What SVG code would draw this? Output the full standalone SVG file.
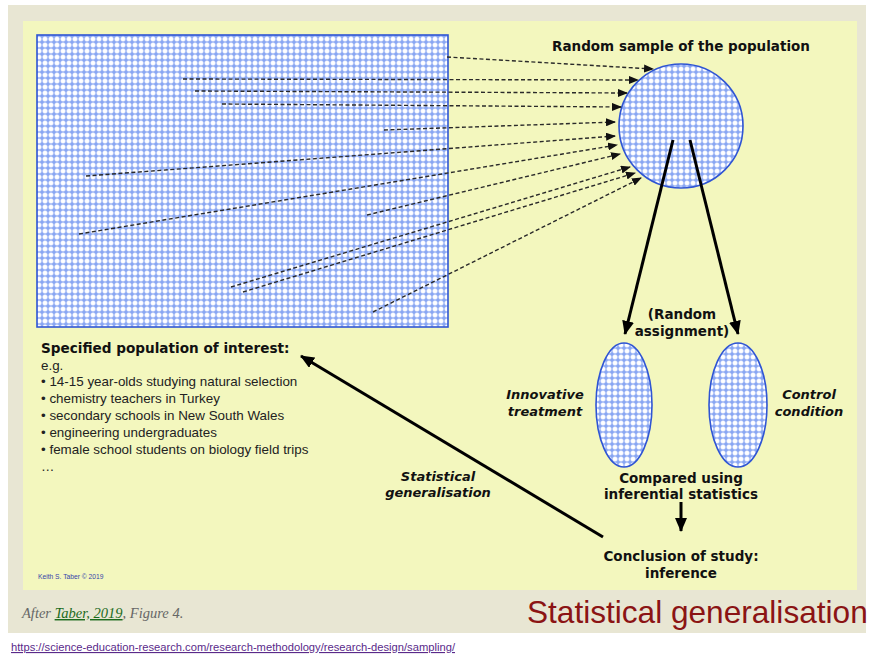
<svg xmlns="http://www.w3.org/2000/svg" width="869" height="657" viewBox="0 0 869 657">
  <defs>
    <style>
      .bold { font-family: "DejaVu Sans", "Liberation Sans", sans-serif; font-weight: bold; fill: #111; }
      .boldit { font-family: "DejaVu Sans", "Liberation Sans", sans-serif; font-weight: bold; font-style: italic; fill: #111; }
      .body { font-family: "Liberation Sans", Arial, sans-serif; font-size: 13.4px; fill: #222; }
      .dash { fill: none; stroke: #2a2a2a; stroke-width: 1.4; stroke-dasharray: 4 2.5; marker-end: url(#headSmall); }
      .solid { fill: none; stroke: #000; stroke-width: 3; marker-end: url(#headBig); }
      .shape { fill: url(#mesh); stroke: #2f55d4; stroke-width: 1.6; }
    </style>
    <!-- blue net of small rings used to fill the population shapes -->
    <pattern id="mesh" width="6" height="6" patternUnits="userSpaceOnUse">
      <rect width="6" height="6" fill="#88a6f3"/>
      <circle cx="3" cy="3" r="2.5" fill="#ffffff" stroke="#b3c6f8" stroke-width="0.4"/>
    </pattern>
    <marker id="headSmall" markerUnits="userSpaceOnUse" markerWidth="10" markerHeight="8" refX="9" refY="4" orient="auto">
      <path d="M0,0 L10,4 L0,8 z" fill="#111"/>
    </marker>
    <marker id="headBig" markerUnits="userSpaceOnUse" markerWidth="14" markerHeight="12" refX="13" refY="6" orient="auto">
      <path d="M0,0 L14,6 L0,12 z" fill="#000"/>
    </marker>
  </defs>

  <!-- slide background -->
  <rect x="0" y="0" width="869" height="657" fill="#ffffff"/>
  <rect x="8" y="5" width="858" height="628" fill="#e8e6d3"/>
  <rect x="23" y="21" width="834" height="569" fill="#f3f7be"/>

  <!-- population of interest -->
  <g id="population">
    <rect class="shape" x="37" y="35" width="411" height="292"/>
    <text class="bold" x="41" y="353" font-size="13.6">Specified population of interest:</text>
    <text class="body" x="41" y="370">e.g.</text>
    <text class="body" x="41" y="386">• 14-15 year-olds studying natural selection</text>
    <text class="body" x="41" y="403">• chemistry teachers in Turkey</text>
    <text class="body" x="41" y="420">• secondary schools in New South Wales</text>
    <text class="body" x="41" y="437">• engineering undergraduates</text>
    <text class="body" x="41" y="454">• female school students on biology field trips</text>
    <text class="body" x="41" y="471">…</text>
  </g>

  <!-- random sample -->
  <g id="sample">
    <circle class="shape" cx="681" cy="126" r="62"/>
    <text class="bold" x="681" y="51" font-size="13.5" text-anchor="middle">Random sample of the population</text>
  </g>

  <g id="assignment">
    <text class="bold" x="682" y="319" font-size="13.5" text-anchor="middle">(Random</text>
    <text class="bold" x="682" y="336" font-size="13.5" text-anchor="middle">assignment)</text>
  </g>

  <!-- experimental groups -->
  <g id="treatment">
    <ellipse class="shape" cx="624" cy="405" rx="28" ry="62"/>
    <text class="boldit" x="545" y="399" font-size="13" text-anchor="middle">Innovative</text>
    <text class="boldit" x="545" y="416" font-size="13" text-anchor="middle">treatment</text>
  </g>

  <g id="control">
    <ellipse class="shape" cx="738" cy="405" rx="29" ry="62"/>
    <text class="boldit" x="809" y="399" font-size="13" text-anchor="middle">Control</text>
    <text class="boldit" x="809" y="416" font-size="13" text-anchor="middle">condition</text>
  </g>

  <g id="compared">
    <text class="bold" x="681" y="483" font-size="13.5" text-anchor="middle">Compared using</text>
    <text class="bold" x="681" y="499" font-size="13.5" text-anchor="middle">inferential statistics</text>
  </g>

  <g id="conclusion">
    <text class="bold" x="681" y="561" font-size="13.5" text-anchor="middle">Conclusion of study:</text>
    <text class="bold" x="681" y="578" font-size="13.5" text-anchor="middle">inference</text>
  </g>

  <g id="generalisation-label">
    <text class="boldit" x="438" y="481" font-size="13" text-anchor="middle">Statistical</text>
    <text class="boldit" x="438" y="497" font-size="13" text-anchor="middle">generalisation</text>
  </g>

  <!-- connectors -->
  <g id="connectors">
    <line class="dash" x1="447" y1="57" x2="653" y2="69"/>
    <line class="dash" x1="183" y1="79" x2="638" y2="80"/>
    <line class="dash" x1="195" y1="91" x2="627" y2="93"/>
    <line class="dash" x1="222" y1="104" x2="621" y2="107"/>
    <line class="dash" x1="384" y1="130" x2="615" y2="122"/>
    <line class="dash" x1="86" y1="176" x2="615" y2="136"/>
    <line class="dash" x1="79" y1="234" x2="617" y2="145"/>
    <line class="dash" x1="367" y1="215" x2="620" y2="154"/>
    <line class="dash" x1="231" y1="287" x2="630" y2="167"/>
    <line class="dash" x1="243" y1="292" x2="635" y2="173"/>
    <line class="dash" x1="373" y1="312" x2="641" y2="178"/>

    <line class="solid" x1="673" y1="140" x2="625" y2="334"/>
    <line class="solid" x1="690" y1="140" x2="738" y2="334"/>
    <line class="solid" stroke-width="2.2" x1="681" y1="502" x2="681" y2="531"/>
    <line class="solid" x1="603" y1="537" x2="301" y2="356"/>
  </g>

  <!-- credits and title -->
  <text x="38" y="579" font-family="Liberation Sans, Arial, sans-serif" font-size="6.7" fill="#3344aa">Keith S. Taber © 2019</text>
  <text x="22" y="618" font-family="Liberation Serif, serif" font-style="italic" font-size="14.5" fill="#666">After <tspan fill="#1c6b1c" text-decoration="underline">Taber, 2019</tspan>, Figure 4.</text>
  <text x="527" y="623" font-family="Liberation Sans, Arial, sans-serif" font-size="31.6" fill="#8b1414">Statistical generalisation</text>
  <text x="11" y="651" font-family="Liberation Sans, Arial, sans-serif" font-size="11.2" fill="#5a2a8a" text-decoration="underline">https://science-education-research.com/research-methodology/research-design/sampling/</text>
</svg>
